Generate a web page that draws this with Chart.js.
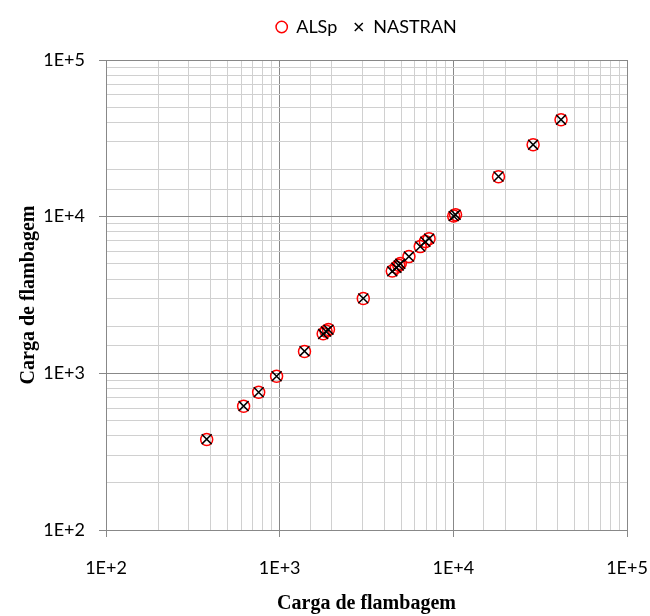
<!DOCTYPE html>
<html lang="pt">
<head>
<meta charset="UTF-8">
<title>Carga de flambagem</title>
<script src="https://cdn.jsdelivr.net/npm/chart.js"></script>
<style>
  html, body { margin: 0; padding: 0; background: #fff; }
  #wrap { width: 650px; height: 616px; }
</style>
</head>
<body>
<div id="wrap"><canvas id="chart" width="650" height="616"></canvas></div>
<script>
// carga de referência (eixo x)
const cargaRef = [380, 620, 757, 960, 1390, 1780, 1850, 1910, 3030, 4450, 4700, 4850, 4950, 5550, 6450, 6900, 7250, 10050, 10300, 18200, 28800, 41700];
// valores das duas séries (eixo y)
const alspVals = [378, 616, 757, 957, 1380, 1790, 1860, 1905, 3005, 4500, 4750, 4900, 5020, 5560, 6440, 6930, 7240, 10100, 10300, 18000, 28760, 41500];
const nastranVals = [380, 618, 757, 958, 1385, 1780, 1850, 1900, 3010, 4480, 4720, 4880, 5000, 5560, 6450, 6920, 7240, 10080, 10280, 18050, 28800, 41600];
const seriesNames = ['ALSp', 'NASTRAN'];
const axisTitle = 'Carga de flambagem';

const tickFont = { family: 'Lato', size: 18 };
const titleFont = { family: 'Liberation Serif', size: 20, weight: 'bold' };

function isDecade(v) {
  const e = Math.log10(v);
  return Math.abs(e - Math.round(e)) < 1e-9;
}
function decadeLabel(v) {
  return isDecade(v) ? '1E+' + Math.round(Math.log10(v)) : '';
}
function gridColor(ctx) {
  if (!ctx.tick) return '#d0d0d0';
  return isDecade(ctx.tick.value) ? '#888888' : '#d0d0d0';
}
function tickColor(ctx) {
  if (!ctx.tick) return 'transparent';
  return isDecade(ctx.tick.value) ? '#888888' : 'transparent';
}

// espaço extra entre a legenda e a área do gráfico
const legendGap = {
  id: 'legendGap',
  beforeUpdate(chart) {
    const lg = chart.legend;
    if (!lg || lg._gapPatched) return;
    const fit = lg.fit;
    lg.fit = function () {
      fit.call(this);
      this.height += 14;
    };
    lg._gapPatched = true;
  }
};

const toPoints = ys => cargaRef.map((x, i) => ({ x: x, y: ys[i] }));

new Chart(document.getElementById('chart'), {
  type: 'scatter',
  data: {
    datasets: [{
      label: seriesNames[0],
      data: toPoints(alspVals),
      pointStyle: 'circle',
      pointRadius: 6,
      pointHoverRadius: 6,
      borderColor: '#ff0000',
      backgroundColor: 'transparent',
      pointBorderWidth: 1.5,
      order: 2
    }, {
      label: seriesNames[1],
      data: toPoints(nastranVals),
      pointStyle: 'crossRot',
      pointRadius: 7,
      pointHoverRadius: 7,
      borderColor: '#000000',
      backgroundColor: '#000000',
      pointBorderWidth: 1.5,
      order: 1
    }]
  },
  plugins: [legendGap],
  options: {
    responsive: false,
    animation: false,
    layout: { padding: { left: 17, right: 0, top: 2, bottom: 0 } },
    plugins: {
      tooltip: { enabled: false },
      legend: {
        position: 'top',
        fullSize: false,
        labels: {
          usePointStyle: true,
          boxWidth: 11,
          boxHeight: 8,
          padding: 16,
          color: '#000',
          font: { family: 'Lato', size: 18 },
          sort: (a, b) => a.datasetIndex - b.datasetIndex
        }
      }
    },
    scales: {
      x: {
        type: 'logarithmic',
        min: 100,
        max: 100000,
        border: { color: '#888888', width: 1 },
        grid: { color: gridColor, tickColor: tickColor, tickLength: 7, lineWidth: 1 },
        ticks: {
          autoSkip: false, maxRotation: 0, padding: 20,
          color: '#000', font: tickFont,
          callback: v => decadeLabel(v)
        },
        title: { display: true, text: axisTitle, color: '#000', font: titleFont, padding: 0 },
        afterFit: s => { s.height = 86; s.paddingLeft = 0; s.paddingRight = 23; }
      },
      y: {
        type: 'logarithmic',
        min: 100,
        max: 100000,
        border: { color: '#888888', width: 1 },
        grid: { color: gridColor, tickColor: tickColor, tickLength: 7, lineWidth: 1 },
        ticks: {
          autoSkip: false, padding: 14,
          color: '#000', font: tickFont,
          callback: v => decadeLabel(v)
        },
        title: { display: true, text: axisTitle, color: '#000', font: titleFont, padding: 0 },
        afterFit: s => { s.width = 89; }
      }
    }
  }
});
</script>
</body>
</html>
